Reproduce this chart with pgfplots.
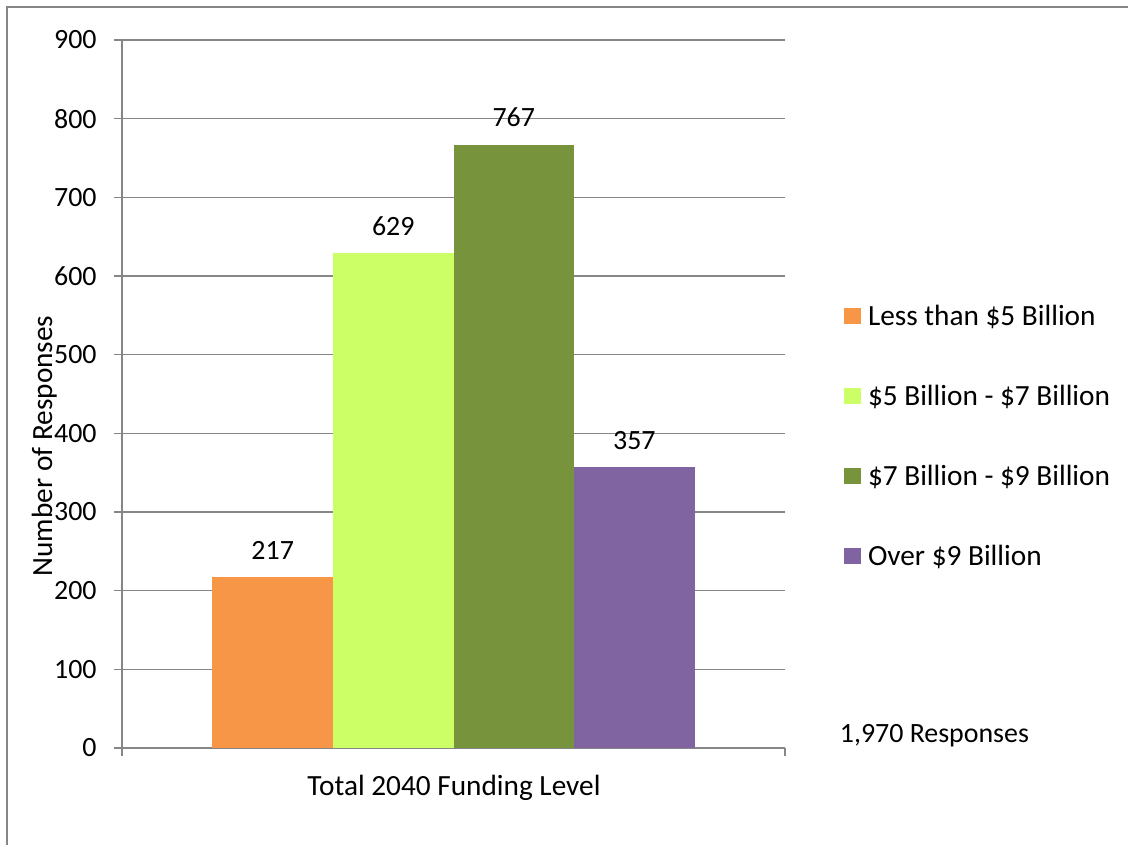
\documentclass[border=0pt]{standalone}
\usepackage{pgfplots}
\pgfplotsset{compat=1.18}
\usepackage{fontspec}
\setmainfont{Carlito}
\definecolor{axgray}{HTML}{868686}
\definecolor{c1}{HTML}{F79646}
\definecolor{c2}{HTML}{CCFF66}
\definecolor{c3}{HTML}{77933C}
\definecolor{c4}{HTML}{8064A2}
\newcommand\cf{\fontsize{14.7}{17}\selectfont}
\newcommand\nf{\fontsize{14}{16.5}\selectfont}
\begin{document}
\begin{tikzpicture}
\path[use as bounding box] (0bp,0bp) rectangle (564bp,422.5bp);
\draw[axgray, line width=1bp] (3.5bp,0bp) -- (3.5bp,419bp) -- (564bp,419bp);
\begin{axis}[
  at={(61bp,48.5bp)}, anchor=south west,
  scale only axis, width=331.5bp, height=354bp,
  ybar, bar width=1, bar shift=0pt,
  xmin=-1.25, xmax=4.25, ymin=0, ymax=900,
  axis x line*=bottom, axis y line*=left,
  axis line style={axgray, line width=0.8bp, -},
  xtick={-1.25,4.25}, xticklabels={},
  ytick={0,100,...,900},
  ymajorgrids, grid style={axgray, line width=0.8bp},
  tick align=outside, major tick length=4bp,
  tick style={axgray, line width=0.8bp},
  /pgf/number format/assume math mode=true,
  yticklabel style={font=\nf, inner sep=0pt, xshift=-8.5bp},
  nodes near coords,
  every node near coord/.append style={font=\nf, anchor=base, inner sep=0pt, yshift=9bp, black},
  legend style={at={(rel axis cs:1.089,0.4365)}, anchor=west, draw=none, fill=none,
    inner sep=0pt, outer sep=0pt, font=\cf, row sep=27.65bp, column sep=3.5bp,
    nodes={inner sep=0pt, text height=9.5bp, text depth=3bp}},
  legend cell align=left,
  legend image code/.code={\fill[#1] (0bp,-2.5bp) rectangle (8.5bp,5.5bp);},
  clip=false,
]
\addplot[fill=c1, draw=none] coordinates {(0,217)};
\addplot[fill=c2, draw=none] coordinates {(1,629)};
\addplot[fill=c3, draw=none] coordinates {(2,767)};
\addplot[fill=c4, draw=none] coordinates {(3,357)};
\legend{Less than \$5 Billion, \$5 Billion - \$7 Billion, \$7 Billion - \$9 Billion, Over \$9 Billion}
\end{axis}
\node[anchor=base, inner sep=0pt, font=\cf] at (227bp,25bp) {Total 2040 Funding Level};
\node[anchor=base west, inner sep=0pt, font=\nf] at (419.75bp,51.2bp) {1,970 Responses};
\node[anchor=base, rotate=90, inner sep=0pt, font=\cf] at (26bp,199.5bp) {Number of Responses};
\end{tikzpicture}
\end{document}
